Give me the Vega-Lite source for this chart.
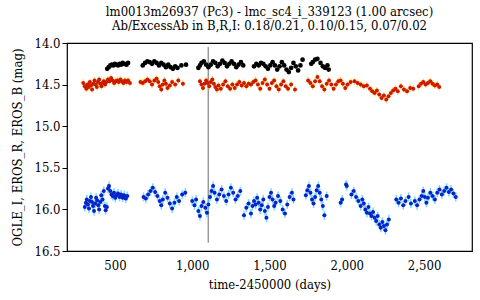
{
  "$schema": "https://vega.github.io/schema/vega-lite/v6.json",
  "width": 405,
  "height": 208,
  "autosize": {"type": "none"},
  "padding": {"left": 67, "top": 43, "right": 8, "bottom": 49},
  "background": "white",
  "config": {
    "view": {"stroke": "black", "strokeWidth": 1.2},
    "font": "DejaVu Serif Condensed"
  },
  "title": {
    "text": ["lm0013m26937 (Pc3) - lmc_sc4_i_339123 (1.00 arcsec)", "Ab/ExcessAb in B,R,I: 0.18/0.21, 0.10/0.15, 0.07/0.02"],
    "font": "DejaVu Serif Condensed",
    "fontSize": 13,
    "fontWeight": "normal",
    "lineHeight": 14,
    "color": "black",
    "anchor": "middle",
    "offset": 4
  },
  "datasets": {
    "I": [
      {"t":450,"m":14.31},{"t":460,"m":14.29},{"t":470,"m":14.27},{"t":480,"m":14.26},{"t":490,"m":14.27},{"t":500,"m":14.25},{"t":510,"m":14.26},{"t":520,"m":14.27},{"t":530,"m":14.25},{"t":540,"m":14.26},{"t":550,"m":14.24},{"t":560,"m":14.25},{"t":575,"m":14.26},{"t":585,"m":14.24},
      {"t":680,"m":14.27},{"t":695,"m":14.24},{"t":710,"m":14.22},{"t":725,"m":14.23},{"t":740,"m":14.25},{"t":755,"m":14.22},{"t":770,"m":14.24},{"t":785,"m":14.27},{"t":800,"m":14.24},{"t":815,"m":14.26},{"t":830,"m":14.29},{"t":845,"m":14.26},{"t":860,"m":14.29},{"t":875,"m":14.31},{"t":890,"m":14.28},{"t":905,"m":14.30},{"t":930,"m":14.27},{"t":960,"m":14.26},
      {"t":1040,"m":14.30},{"t":1050,"m":14.27},{"t":1060,"m":14.24},{"t":1075,"m":14.22},{"t":1090,"m":14.26},{"t":1105,"m":14.29},{"t":1120,"m":14.26},{"t":1135,"m":14.22},{"t":1150,"m":14.24},{"t":1165,"m":14.28},{"t":1180,"m":14.25},{"t":1195,"m":14.21},{"t":1210,"m":14.24},{"t":1225,"m":14.28},{"t":1240,"m":14.25},{"t":1255,"m":14.22},{"t":1270,"m":14.25},{"t":1285,"m":14.29},{"t":1300,"m":14.26},{"t":1315,"m":14.23},{"t":1330,"m":14.27},
      {"t":1400,"m":14.28},{"t":1415,"m":14.25},{"t":1430,"m":14.27},{"t":1445,"m":14.24},{"t":1460,"m":14.25},{"t":1475,"m":14.28},{"t":1490,"m":14.31},{"t":1505,"m":14.27},{"t":1520,"m":14.23},{"t":1535,"m":14.27},{"t":1550,"m":14.32},{"t":1565,"m":14.28},{"t":1580,"m":14.23},{"t":1595,"m":14.27},{"t":1610,"m":14.32},{"t":1625,"m":14.35},{"t":1640,"m":14.30},{"t":1655,"m":14.24},{"t":1670,"m":14.28},{"t":1685,"m":14.33},{"t":1700,"m":14.27},{"t":1714,"m":14.20},
      {"t":1770,"m":14.25},{"t":1780,"m":14.23},{"t":1795,"m":14.20},{"t":1810,"m":14.19},{"t":1830,"m":14.24},{"t":1845,"m":14.28},{"t":1860,"m":14.30},{"t":1875,"m":14.27},{"t":1883,"m":14.32}
    ],
    "R": [
      {"t":295,"m":14.48},{"t":305,"m":14.52},{"t":315,"m":14.55},{"t":322,"m":14.50},{"t":330,"m":14.53},{"t":338,"m":14.47},{"t":345,"m":14.51},{"t":352,"m":14.56},{"t":360,"m":14.49},{"t":368,"m":14.45},{"t":375,"m":14.50},{"t":383,"m":14.53},{"t":390,"m":14.47},{"t":398,"m":14.44},{"t":405,"m":14.49},{"t":413,"m":14.52},{"t":420,"m":14.48},{"t":428,"m":14.46},{"t":436,"m":14.50},{"t":445,"m":14.47},{"t":455,"m":14.44},{"t":465,"m":14.46},{"t":475,"m":14.42},{"t":485,"m":14.45},{"t":495,"m":14.48},{"t":505,"m":14.46},{"t":515,"m":14.45},{"t":525,"m":14.47},{"t":535,"m":14.44},{"t":545,"m":14.46},{"t":555,"m":14.48},{"t":565,"m":14.45},{"t":575,"m":14.47},{"t":585,"m":14.45},{"t":597,"m":14.48},
      {"t":665,"m":14.47},{"t":680,"m":14.48},{"t":695,"m":14.46},{"t":710,"m":14.44},{"t":725,"m":14.46},{"t":740,"m":14.50},{"t":755,"m":14.45},{"t":770,"m":14.43},{"t":780,"m":14.47},{"t":790,"m":14.52},{"t":800,"m":14.56},{"t":810,"m":14.50},{"t":820,"m":14.45},{"t":830,"m":14.49},{"t":840,"m":14.54},{"t":855,"m":14.51},{"t":870,"m":14.47},{"t":890,"m":14.50},{"t":910,"m":14.45},{"t":940,"m":14.49},
      {"t":1050,"m":14.46},{"t":1060,"m":14.50},{"t":1070,"m":14.54},{"t":1080,"m":14.49},{"t":1090,"m":14.45},{"t":1100,"m":14.48},{"t":1110,"m":14.52},{"t":1120,"m":14.47},{"t":1130,"m":14.44},{"t":1140,"m":14.49},{"t":1150,"m":14.53},{"t":1160,"m":14.56},{"t":1170,"m":14.51},{"t":1185,"m":14.55},{"t":1200,"m":14.50},{"t":1215,"m":14.46},{"t":1230,"m":14.52},{"t":1245,"m":14.55},{"t":1260,"m":14.50},{"t":1275,"m":14.54},{"t":1290,"m":14.50},{"t":1305,"m":14.47},{"t":1320,"m":14.51},{"t":1335,"m":14.48},
      {"t":1350,"m":14.52},{"t":1365,"m":14.49},{"t":1380,"m":14.50},{"t":1395,"m":14.47},{"t":1410,"m":14.45},{"t":1425,"m":14.50},{"t":1440,"m":14.55},{"t":1455,"m":14.48},{"t":1470,"m":14.44},{"t":1485,"m":14.50},{"t":1500,"m":14.55},{"t":1515,"m":14.48},{"t":1530,"m":14.45},{"t":1545,"m":14.52},{"t":1560,"m":14.56},{"t":1575,"m":14.50},{"t":1590,"m":14.46},{"t":1605,"m":14.52},{"t":1620,"m":14.55},{"t":1640,"m":14.50},{"t":1665,"m":14.56},
      {"t":1750,"m":14.45},{"t":1765,"m":14.48},{"t":1780,"m":14.52},{"t":1795,"m":14.46},{"t":1810,"m":14.41},{"t":1825,"m":14.46},{"t":1840,"m":14.52},{"t":1855,"m":14.56},{"t":1870,"m":14.49},{"t":1885,"m":14.45},{"t":1900,"m":14.50},{"t":1915,"m":14.55},{"t":1930,"m":14.50},{"t":1945,"m":14.46},{"t":1960,"m":14.45},{"t":1975,"m":14.49},{"t":1990,"m":14.54},{"t":2005,"m":14.50},{"t":2025,"m":14.47},{"t":2050,"m":14.46},{"t":2070,"m":14.48},{"t":2090,"m":14.50},{"t":2110,"m":14.52},{"t":2130,"m":14.51},
      {"t":2150,"m":14.55},{"t":2165,"m":14.58},{"t":2180,"m":14.60},{"t":2195,"m":14.57},{"t":2210,"m":14.62},{"t":2225,"m":14.66},{"t":2240,"m":14.63},{"t":2255,"m":14.68},{"t":2270,"m":14.64},{"t":2285,"m":14.60},{"t":2300,"m":14.57},{"t":2315,"m":14.55},{"t":2330,"m":14.58},{"t":2350,"m":14.52},{"t":2370,"m":14.56},{"t":2390,"m":14.58},{"t":2410,"m":14.54},{"t":2430,"m":14.55},
      {"t":2465,"m":14.52},{"t":2480,"m":14.49},{"t":2495,"m":14.47},{"t":2510,"m":14.50},{"t":2525,"m":14.48},{"t":2540,"m":14.46},{"t":2555,"m":14.49},{"t":2570,"m":14.51},{"t":2585,"m":14.50},{"t":2598,"m":14.53}
    ],
    "B": [
      {"t":305,"m":15.97},{"t":312,"m":15.92},{"t":318,"m":15.88},{"t":325,"m":15.94},{"t":332,"m":15.99},{"t":338,"m":15.90},{"t":345,"m":15.85},{"t":352,"m":15.91},{"t":358,"m":15.96},{"t":365,"m":16.02},{"t":372,"m":15.93},{"t":378,"m":15.86},{"t":385,"m":15.89},{"t":392,"m":15.95},{"t":398,"m":16.00},{"t":405,"m":15.91},{"t":412,"m":15.83},{"t":420,"m":15.88},{"t":428,"m":15.78},{"t":435,"m":15.96},{"t":440,"m":16.01},{"t":448,"m":15.97},
      {"t":455,"m":15.75},{"t":462,"m":15.72},{"t":470,"m":15.78},{"t":478,"m":15.82},{"t":486,"m":15.84},{"t":494,"m":15.80},{"t":502,"m":15.86},{"t":510,"m":15.83},{"t":520,"m":15.81},{"t":530,"m":15.85},{"t":540,"m":15.82},{"t":550,"m":15.86},{"t":560,"m":15.83},{"t":570,"m":15.87},{"t":580,"m":15.84},
      {"t":685,"m":15.85},{"t":700,"m":15.87},{"t":715,"m":15.82},{"t":730,"m":15.78},{"t":745,"m":15.74},{"t":760,"m":15.79},{"t":775,"m":15.84},{"t":790,"m":15.90},{"t":800,"m":15.95},{"t":810,"m":15.88},{"t":825,"m":15.80},{"t":840,"m":15.86},{"t":855,"m":15.93},{"t":870,"m":15.99},{"t":885,"m":15.92},{"t":900,"m":15.85},{"t":915,"m":15.90},{"t":935,"m":15.82},{"t":955,"m":15.80},
      {"t":1000,"m":15.90},{"t":1015,"m":15.95},{"t":1025,"m":15.88},{"t":1040,"m":16.02},{"t":1050,"m":16.08},{"t":1060,"m":15.96},{"t":1072,"m":15.91},{"t":1085,"m":15.98},{"t":1095,"m":16.04},{"t":1105,"m":15.94},{"t":1115,"m":15.85},{"t":1125,"m":15.78},{"t":1135,"m":15.72},{"t":1145,"m":15.80},{"t":1160,"m":15.88},{"t":1175,"m":15.82},{"t":1190,"m":15.76},{"t":1205,"m":15.84},{"t":1220,"m":15.90},{"t":1235,"m":15.82},{"t":1250,"m":15.74},{"t":1265,"m":15.80},{"t":1280,"m":15.88},{"t":1295,"m":15.84},{"t":1311,"m":15.78},
      {"t":1335,"m":16.07},{"t":1350,"m":15.98},{"t":1365,"m":15.93},{"t":1380,"m":16.05},{"t":1390,"m":15.96},{"t":1400,"m":15.90},{"t":1410,"m":15.94},{"t":1420,"m":15.86},{"t":1430,"m":15.92},{"t":1440,"m":16.00},{"t":1450,"m":15.95},{"t":1460,"m":15.88},{"t":1470,"m":16.02},{"t":1480,"m":16.10},{"t":1490,"m":15.97},{"t":1500,"m":15.85},{"t":1510,"m":15.80},{"t":1520,"m":15.88},{"t":1530,"m":15.96},{"t":1540,"m":15.92},{"t":1555,"m":15.84},{"t":1570,"m":15.90},{"t":1585,"m":16.00},{"t":1600,"m":16.05},{"t":1615,"m":15.94},{"t":1630,"m":15.85},{"t":1645,"m":15.80},{"t":1655,"m":15.88},
      {"t":1735,"m":15.83},{"t":1745,"m":15.77},{"t":1755,"m":15.72},{"t":1765,"m":15.80},{"t":1775,"m":15.88},{"t":1785,"m":15.93},{"t":1795,"m":15.85},{"t":1805,"m":15.77},{"t":1815,"m":15.72},{"t":1825,"m":15.80},{"t":1835,"m":15.88},{"t":1845,"m":15.96},{"t":1855,"m":16.07},{"t":1870,"m":15.84},
      {"t":1960,"m":15.92},{"t":1970,"m":15.88},{"t":1995,"m":15.70},{"t":2000,"m":15.72},{"t":2030,"m":15.82},{"t":2045,"m":15.78},{"t":2060,"m":15.85},{"t":2075,"m":15.90},{"t":2090,"m":15.96},{"t":2100,"m":15.88},{"t":2110,"m":15.93},{"t":2120,"m":16.00},{"t":2130,"m":16.04},{"t":2140,"m":15.97},{"t":2150,"m":16.05},{"t":2160,"m":16.08},{"t":2170,"m":16.03},{"t":2180,"m":16.10},{"t":2190,"m":16.14},{"t":2200,"m":16.08},{"t":2210,"m":16.18},{"t":2220,"m":16.22},{"t":2230,"m":16.15},{"t":2240,"m":16.20},{"t":2250,"m":16.25},{"t":2260,"m":16.18},{"t":2272,"m":16.12},
      {"t":2320,"m":15.88},{"t":2335,"m":15.92},{"t":2350,"m":15.87},{"t":2365,"m":15.95},{"t":2380,"m":15.90},{"t":2400,"m":15.85},{"t":2415,"m":15.93},{"t":2440,"m":15.90},{"t":2455,"m":15.95},{"t":2470,"m":15.88},{"t":2485,"m":15.84},{"t":2495,"m":15.78},{"t":2505,"m":15.85},{"t":2515,"m":15.92},{"t":2525,"m":15.86},{"t":2540,"m":15.80},{"t":2555,"m":15.84},{"t":2570,"m":15.88},{"t":2585,"m":15.80},{"t":2600,"m":15.76},{"t":2615,"m":15.82},{"t":2630,"m":15.78},{"t":2645,"m":15.74},{"t":2660,"m":15.79},{"t":2675,"m":15.76},{"t":2690,"m":15.81},{"t":2705,"m":15.85}
    ],
    "V": [{"t":1104,"m":14.05,"m2":16.4}]
  },
  "encoding": {
    "x": {
      "field": "t", "type": "quantitative",
      "scale": {"domain": [190, 2810], "nice": false, "zero": false},
      "axis": {
        "title": "time-2450000 (days)", "values": [500, 1000, 1500, 2000, 2500], "format": ",.0f",
        "grid": false, "ticks": false, "domain": false,
        "labelFont": "DejaVu Serif Condensed", "labelFontSize": 13, "labelColor": "black", "labelPadding": 8,
        "titleFont": "DejaVu Serif Condensed", "titleFontSize": 13, "titleFontWeight": "normal", "titleColor": "black", "titlePadding": 6
      }
    },
    "y": {
      "field": "m", "type": "quantitative",
      "scale": {"domain": [14.0, 16.5], "reverse": true, "nice": false, "zero": false},
      "axis": {
        "title": "OGLE_I, EROS_R, EROS_B (mag)", "values": [14, 14.5, 15, 15.5, 16, 16.5], "format": ".1f",
        "grid": false, "domain": false, "ticks": true, "tickSize": 5, "tickColor": "black",
        "labelFont": "DejaVu Serif Condensed", "labelFontSize": 13, "labelColor": "black", "labelPadding": 2,
        "titleFont": "DejaVu Serif Condensed", "titleFontSize": 13, "titleFontWeight": "normal", "titleColor": "black", "titlePadding": 9
      }
    }
  },
  "layer": [
    {"data": {"name": "V"}, "mark": {"type": "rule", "color": "#999999", "strokeWidth": 1.5}, "encoding": {"y2": {"field": "m2"}}},
    {"data": {"name": "R"}, "mark": {"type": "tick", "orient": "vertical", "color": "#ffcc33", "size": 7, "thickness": 1.5}},
    {"data": {"name": "B"}, "mark": {"type": "tick", "orient": "vertical", "color": "#33ccff", "size": 9, "thickness": 1.5}},
    {"data": {"name": "I"}, "mark": {"type": "circle", "color": "black", "size": 22, "opacity": 1}},
    {"data": {"name": "R"}, "mark": {"type": "circle", "color": "#cc1a00", "size": 16, "opacity": 1}},
    {"data": {"name": "B"}, "mark": {"type": "circle", "color": "#0a22c8", "size": 16, "opacity": 1}}
  ]
}
